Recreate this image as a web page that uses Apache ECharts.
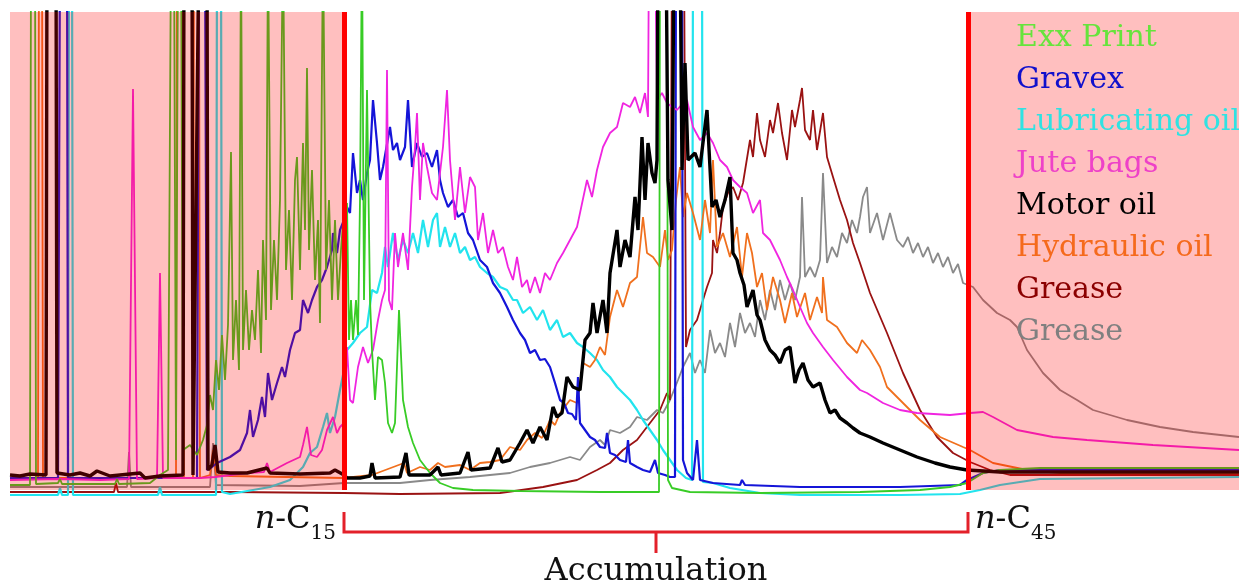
<!DOCTYPE html>
<html>
<head>
<meta charset="utf-8">
<script src="https://cdn.jsdelivr.net/npm/echarts@6/dist/echarts.min.js"></script>
<style>
html,body{margin:0;padding:0;background:#fff;}
#chart{width:1239px;height:586px;}
</style>
</head>
<body>
<div id="chart"></div>
<script>
// x = retention scan index, y = detector response (arbitrary units); flat [x, y, x, y, ...]
const exxPrint = [10,15, 30,15, 31,560, 35,560, 36,16, 58,17, 60,21, 62,16, 115,16, 117,21, 119,16, 150,17, 160,25, 168,30, 171,560, 174,560, 176,40, 178,560, 181,560, 183,50, 190,55, 197,45, 203,60, 207,75, 210,105, 213,90, 216,140, 219,110, 222,165, 225,120, 228,175, 231,348, 233,140, 236,200, 239,130, 241,560, 243,150, 246,210, 249,150, 252,190, 255,160, 258,230, 261,147, 263,260, 266,180, 268,560, 271,190, 274,260, 277,200, 280,300, 283,560, 286,230, 289,290, 292,200, 295,320, 297,343, 300,230, 303,357, 305,270, 307,432, 309,250, 312,330, 315,220, 318,280, 320,177, 323,560, 326,230, 329,300, 332,200, 335,280, 338,200, 341,250, 344,290, 347,297, 349,160, 351,200, 353,160, 356,200, 358,165, 360,300, 362,560, 364,200, 367,410, 370,200, 372,150, 375,100, 378,143, 382,140, 385,117, 388,77, 392,67, 395,77, 399,190, 403,100, 408,73, 413,57, 420,40, 430,27, 440,17, 453,12, 473,10, 520,9, 600,8, 659,8, 660,560, 667,560, 668,20, 672,12, 690,8, 760,7, 860,8, 920,10, 950,13, 967,17, 983,27, 1000,30, 1040,32, 1239,32];
const gravex = [10,22, 58,22, 60,560, 67,560, 68,22, 100,22, 150,22, 197,22, 199,560, 205,560, 207,30, 212,33, 217,37, 230,43, 240,50, 247,67, 250,90, 253,63, 258,80, 262,103, 265,83, 268,127, 272,100, 277,117, 282,133, 285,123, 290,150, 295,167, 300,170, 303,200, 308,187, 312,200, 317,213, 322,220, 327,233, 332,250, 333,267, 337,247, 340,270, 344,280, 347,293, 350,287, 353,347, 357,307, 360,320, 363,300, 367,327, 370,340, 373,400, 377,357, 380,320, 383,333, 390,373, 393,350, 397,357, 400,340, 405,353, 408,400, 412,333, 417,357, 422,343, 427,347, 432,333, 437,350, 440,320, 443,307, 448,293, 453,300, 458,283, 463,287, 468,267, 473,260, 480,240, 487,233, 493,217, 500,207, 507,193, 513,180, 520,167, 525,160, 530,147, 535,150, 540,140, 545,141, 550,133, 555,117, 560,100, 564,97, 568,87, 572,86, 576,80, 578,123, 580,77, 585,70, 590,63, 595,60, 600,53, 605,52, 607,67, 610,47, 615,45, 620,40, 626,38, 628,60, 630,37, 637,33, 643,30, 650,28, 655,40, 658,27, 665,25, 670,23, 675,23, 676,560, 682,560, 683,40, 687,27, 693,20, 697,60, 700,20, 713,17, 740,15, 742,20, 745,15, 800,13, 900,13, 960,15, 967,20, 983,27, 1000,30, 1040,30, 1239,30];
const lubOil = [10,5, 58,5, 60,12, 62,5, 68,5, 69,560, 72,560, 73,5, 158,5, 160,13, 162,5, 216,5, 217,560, 221,560, 222,8, 230,6, 253,10, 270,13, 290,20, 297,27, 303,33, 310,47, 317,53, 323,73, 327,87, 330,67, 335,83, 340,110, 344,130, 347,150, 353,157, 360,167, 367,173, 372,210, 377,207, 382,227, 385,253, 388,233, 393,267, 398,240, 403,260, 408,247, 413,267, 418,247, 423,280, 428,253, 433,280, 437,287, 440,253, 445,273, 450,253, 455,267, 460,247, 465,253, 470,240, 475,243, 480,233, 487,227, 493,223, 500,213, 507,210, 513,200, 517,200, 523,187, 530,193, 537,180, 543,190, 550,170, 557,180, 563,163, 570,167, 577,157, 583,153, 590,147, 597,140, 603,130, 610,123, 617,113, 623,107, 630,100, 637,90, 643,80, 650,70, 657,60, 663,50, 670,40, 677,30, 686,22, 692,20, 693,560, 702,560, 703,18, 713,17, 730,12, 760,7, 800,5, 900,5, 960,6, 980,10, 1000,15, 1040,21, 1239,23];
const juteBags = [10,20, 60,21, 100,20, 129,21, 133,411, 137,21, 157,22, 160,227, 163,22, 200,22, 215,23, 247,27, 264,28, 267,37, 270,28, 287,37, 300,43, 303,55, 307,73, 311,45, 317,43, 322,50, 327,70, 333,83, 337,67, 340,73, 344,77, 347,153, 350,100, 353,97, 358,133, 363,153, 368,137, 373,150, 378,180, 382,200, 385,210, 387,430, 389,200, 392,190, 395,267, 398,233, 403,267, 408,230, 412,313, 415,353, 417,387, 420,300, 423,357, 427,333, 432,307, 437,300, 440,327, 443,353, 447,410, 450,340, 455,280, 460,333, 465,287, 470,323, 475,313, 478,260, 483,287, 488,247, 493,270, 498,247, 503,253, 508,233, 513,220, 517,243, 522,213, 527,220, 530,207, 535,223, 540,207, 545,227, 550,220, 557,237, 563,247, 570,260, 577,273, 580,287, 587,320, 592,303, 597,330, 603,353, 610,367, 617,373, 623,397, 630,393, 635,403, 640,387, 645,407, 648,383, 649,560, 655,560, 657,400, 662,407, 667,397, 672,393, 677,390, 683,397, 687,400, 693,373, 700,360, 707,367, 713,357, 720,340, 727,333, 733,320, 740,313, 747,307, 753,287, 760,300, 763,267, 770,260, 780,240, 787,223, 793,210, 800,193, 807,177, 813,167, 823,153, 833,140, 847,123, 860,110, 867,107, 883,97, 900,90, 917,87, 950,85, 970,87, 983,88, 993,83, 1017,70, 1053,63, 1087,60, 1153,55, 1239,50];
const motorOil = [10,25, 20,24, 30,26, 46,25, 47,560, 56,560, 57,27, 70,25, 80,27, 90,24, 97,29, 110,24, 140,27, 145,22, 160,24, 183,25, 184,560, 192,560, 193,25, 199,560, 207,560, 208,30, 212,35, 215,55, 218,28, 230,27, 247,27, 267,32, 270,27, 300,26, 330,27, 335,30, 344,25, 347,22, 360,22, 370,24, 372,37, 375,22, 400,23, 406,47, 409,25, 430,25, 438,33, 441,25, 460,27, 468,48, 471,30, 490,32, 498,52, 502,38, 510,40, 520,57, 527,70, 533,57, 540,73, 547,60, 553,93, 557,83, 562,87, 567,123, 573,113, 580,110, 585,160, 590,167, 593,197, 597,167, 603,200, 607,167, 610,227, 617,270, 620,233, 625,260, 630,243, 635,303, 638,270, 642,363, 645,300, 648,357, 652,327, 655,317, 657,340, 658,560, 666,560, 668,320, 672,270, 674,560, 680,560, 682,330, 685,437, 688,340, 690,340, 695,347, 700,333, 707,390, 712,293, 716,300, 720,283, 725,300, 730,323, 733,247, 737,240, 740,227, 744,215, 747,193, 753,210, 757,185, 760,180, 765,160, 770,150, 775,145, 780,137, 785,150, 790,153, 795,117, 799,130, 803,137, 808,120, 813,113, 820,117, 825,100, 830,87, 835,90, 840,82, 847,77, 853,72, 860,67, 870,63, 883,57, 900,50, 917,43, 935,37, 950,33, 967,30, 1000,28, 1239,28];
const hydraulicOil = [10,22, 38,22, 39,560, 42,560, 43,22, 100,22, 176,22, 177,560, 183,560, 184,22, 193,22, 194,560, 199,560, 200,22, 210,25, 213,50, 216,25, 230,24, 344,22, 372,25, 404,37, 407,27, 420,33, 430,30, 438,37, 445,33, 460,35, 470,30, 480,37, 490,38, 500,40, 510,53, 520,50, 527,60, 535,67, 542,62, 550,80, 555,75, 560,87, 570,100, 577,97, 583,137, 590,133, 595,140, 600,153, 605,145, 610,183, 617,210, 623,193, 630,217, 637,223, 643,283, 647,247, 653,243, 660,233, 665,270, 668,240, 672,250, 676,300, 680,333, 683,283, 687,307, 693,287, 700,260, 705,300, 710,267, 713,340, 717,253, 723,267, 730,243, 737,273, 742,223, 747,267, 752,247, 757,213, 762,227, 767,190, 773,223, 780,200, 785,177, 792,207, 797,183, 805,207, 810,180, 817,203, 822,187, 823,223, 827,180, 837,173, 847,157, 857,147, 862,160, 870,150, 880,133, 887,113, 895,105, 903,97, 920,80, 940,63, 963,53, 970,50, 993,37, 1027,30, 1060,27, 1239,27];
const greaseRed = [10,8, 100,8, 114,8, 116,17, 118,8, 160,8, 230,8, 344,7, 400,6, 500,7, 543,13, 577,20, 597,30, 610,37, 623,50, 637,60, 650,77, 660,90, 667,107, 670,100, 672,560, 684,560, 686,153, 690,170, 697,180, 703,200, 707,213, 712,227, 713,260, 717,247, 720,267, 723,293, 728,307, 733,313, 738,300, 743,317, 750,360, 753,343, 757,387, 760,360, 765,343, 770,380, 773,367, 778,397, 782,367, 787,340, 792,390, 795,373, 800,400, 802,412, 805,370, 810,360, 813,390, 817,350, 823,387, 827,343, 833,323, 840,300, 847,280, 853,257, 860,237, 870,207, 887,167, 903,127, 920,90, 937,63, 953,47, 970,38, 990,30, 1010,25, 1239,25];
const greaseGray = [10,13, 100,13, 127,13, 129,48, 131,13, 210,13, 213,57, 216,15, 300,14, 344,17, 400,17, 430,20, 470,23, 510,27, 530,33, 550,37, 570,43, 580,40, 590,53, 600,60, 605,55, 610,70, 620,67, 630,73, 637,83, 647,80, 657,90, 663,87, 670,100, 678,120, 683,133, 690,147, 695,127, 700,140, 705,127, 710,170, 715,147, 720,157, 725,143, 730,177, 735,153, 740,187, 745,167, 750,177, 755,163, 760,200, 765,180, 770,210, 775,190, 780,220, 785,200, 790,217, 795,200, 800,223, 802,303, 805,223, 810,233, 815,223, 820,240, 823,327, 827,237, 832,253, 837,243, 842,267, 847,257, 852,280, 857,267, 860,283, 863,303, 867,313, 870,267, 877,287, 883,260, 890,287, 897,260, 903,253, 908,263, 913,247, 918,257, 923,243, 928,253, 933,237, 938,247, 943,233, 948,243, 953,227, 958,236, 963,217, 973,213, 983,200, 997,187, 1010,180, 1017,173, 1027,150, 1043,127, 1060,110, 1077,100, 1093,90, 1127,80, 1160,73, 1193,68, 1239,63];

const legendNames = ['Exx Print', 'Gravex', 'Lubricating oil', 'Jute bags', 'Motor oil', 'Hydraulic oil', 'Grease', 'Grease '];
const legendColors = ['#66e43c', '#1010cc', '#30e2e2', '#ee42c8', '#000000', '#f56a1c', '#8b0000', '#808080'];
const nC15 = 344, nC45 = 968;     // scan index of n-C15 and n-C45
const xMin = 10, xMax = 1239, yMax = 488, shadeBottom = 10;

function pairs(flat){ const out=[]; for(let i=0;i<flat.length;i+=2) out.push([flat[i], flat[i+1]]); return out; }
function mk(name, flat, color, width){
  return {type:'line', name, data:pairs(flat), showSymbol:false, symbol:'none', silent:true, clip:true,
    lineStyle:{color, width}, itemStyle:{color}, z:2};
}

const chart = echarts.init(document.getElementById('chart'), null, {renderer:'canvas'});
chart.setOption({
  animation:false,
  backgroundColor:'#ffffff',
  grid:{left:10, right:0, top:12, bottom:86},
  xAxis:{type:'value', min:xMin, max:xMax, show:false},
  yAxis:{type:'value', min:0, max:yMax, show:false},
  legend:{orient:'vertical', left:1011, top:17, padding:0, itemGap:0, itemWidth:0, itemHeight:0, icon:'rect',
    selectedMode:false, z:10,
    textStyle:{fontFamily:'DejaVu Serif', fontSize:30, lineHeight:42},
    data:legendNames.map((n,i)=>({name:n, icon:'rect', textStyle:{color:legendColors[i]}}))},
  series:[
    mk('Grease ', greaseGray, '#8a8a8a', 1.8),
    mk('Grease', greaseRed, '#9a1212', 1.8),
    mk('Lubricating oil', lubOil, '#22e4ee', 2.2),
    mk('Hydraulic oil', hydraulicOil, '#f0701e', 1.8),
    mk('Gravex', gravex, '#1515d8', 2.2),
    mk('Jute bags', juteBags, '#f025e0', 1.8),
    mk('Exx Print', exxPrint, '#38cc26', 1.8),
    mk('Motor oil', motorOil, '#000000', 3.4),
    {type:'line', name:'shade', data:[], z:5, silent:true,
      markArea:{z:5, silent:true, itemStyle:{color:'rgba(255,0,0,0.25)'},
        data:[[{xAxis:xMin, yAxis:shadeBottom},{xAxis:nC15, yAxis:yMax}],
              [{xAxis:nC45, yAxis:shadeBottom},{xAxis:xMax, yAxis:yMax}]]}},
    {type:'line', name:'bounds', data:[], z:6, silent:true,
      markLine:{z:6, silent:true, symbol:['none','none'], label:{show:false},
        lineStyle:{color:'#ff0000', width:5, type:'solid'},
        data:[[{coord:[nC15, shadeBottom]},{coord:[nC15, yMax]}],
              [{coord:[nC45, shadeBottom]},{coord:[nC45, yMax]}]]}}
  ]
});

const x1 = chart.convertToPixel({xAxisIndex:0}, nC15);
const x2 = chart.convertToPixel({xAxisIndex:0}, nC45);
const xm = (x1 + x2) / 2;
const bracketColor = '#e3202a';
const rich = {
  i:{fontFamily:'DejaVu Serif', fontStyle:'italic', fontSize:32, lineHeight:40, verticalAlign:'top', fill:'#111'},
  m:{fontFamily:'DejaVu Serif', fontSize:32, lineHeight:40, verticalAlign:'top', fill:'#111'},
  s:{fontFamily:'DejaVu Serif', fontSize:20, lineHeight:22, verticalAlign:'bottom', fill:'#111'}
};
chart.setOption({graphic:[
  {type:'polyline', silent:true, shape:{points:[[x1,512],[x1,532],[x2,532],[x2,512]]}, style:{stroke:bracketColor, lineWidth:3, fill:null}},
  {type:'line', silent:true, shape:{x1:xm, y1:532, x2:xm, y2:553}, style:{stroke:bracketColor, lineWidth:3}},
  {type:'text', silent:true, x:x1-8, y:504, style:{text:'{i|n}{m|-C}{s|15}', rich, align:'right', verticalAlign:'top'}},
  {type:'text', silent:true, x:x2+7, y:504, style:{text:'{i|n}{m|-C}{s|45}', rich, align:'left', verticalAlign:'top'}},
  {type:'text', silent:true, x:xm, y:572, style:{text:'Accumulation', fontFamily:'DejaVu Serif', fontSize:32, fill:'#111', align:'center', verticalAlign:'middle'}}
]});
</script>
</body>
</html>
